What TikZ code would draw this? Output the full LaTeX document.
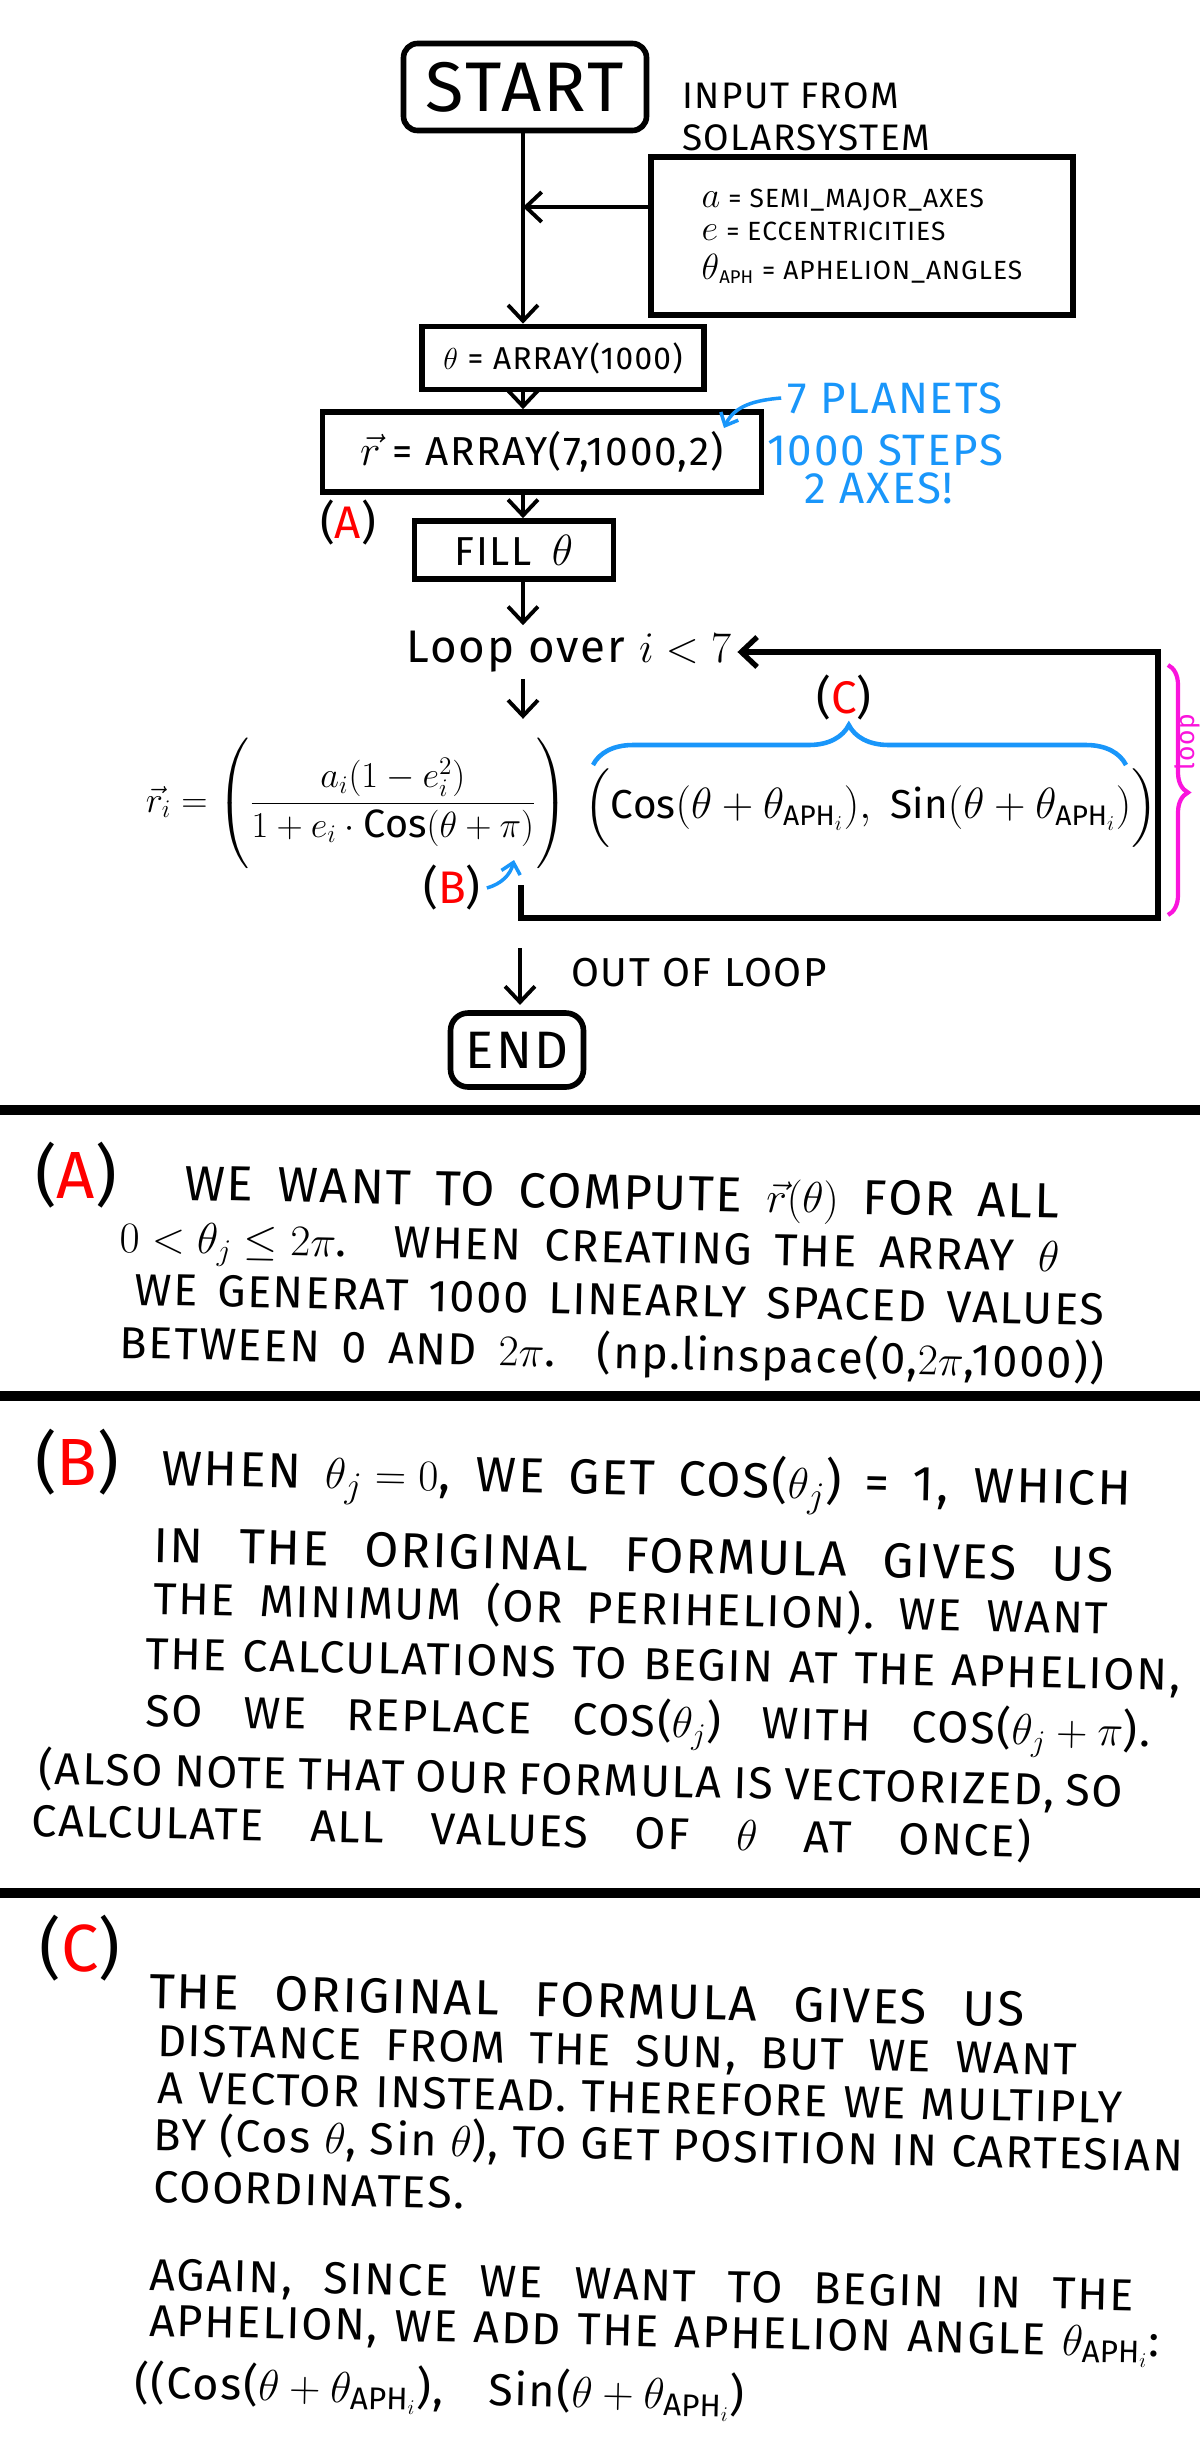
\documentclass[tikz,border=0pt]{standalone}
\usepackage{amsmath}
\usepackage{fontspec}
\setmainfont{Fira Sans}[LetterSpace=4]
\usetikzlibrary{arrows.meta,decorations.pathreplacing}

\definecolor{noteblue}{RGB}{25,150,250}
\definecolor{notepink}{RGB}{250,20,220}
\newcommand{\tagmark}[1]{(\textcolor{red}{#1})}
\newcommand{\thaph}{\theta_{\mathrm{APH}}}
\newcommand{\thaphi}{\theta_{\mathrm{APH}_i}}
\newcommand{\biglet}[1]{{\fontsize{21}{19}\selectfont$#1$}}
\newcommand{\spread}[2]{\makebox[#1][s]{#2}}

\tikzset{
  flowbox/.style={draw,line width=3.2pt,inner sep=0pt},
  arr/.style={line width=2.2pt,-{Straight Barb[length=9pt,width=17pt]}},
  bluearr/.style={draw=noteblue,line width=2pt,-{Straight Barb[length=6pt,width=11pt]}},
  note/.style={text=noteblue,font=\fontsize{25}{28}\selectfont},
  body/.style={anchor=base west,inner sep=0pt,rotate=-1.2,font=\fontsize{25.5}{29}\selectfont},
  bodybig/.style={body,font=\fontsize{28}{32}\selectfont},
  tag/.style={font=\fontsize{26}{30}\selectfont},
  bigtag/.style={font=\fontsize{38}{42}\selectfont},
  sepbar/.style={line width=5.6pt},
  bluebrace/.style={draw=noteblue,line width=2.6pt,decorate,decoration={brace,amplitude=0.8cm,aspect=0.48}},
  pinkbrace/.style={draw=notepink,line width=2.4pt,decorate,decoration={brace,amplitude=0.4cm,aspect=0.51}},
}

\begin{document}
\begin{tikzpicture}[x=0.02cm,y=0.02cm]
  \fill[white] (0,0) rectangle (1200,-2440);
  \useasboundingbox (0,0) rectangle (1200,-2440);

  % flow chart
  \node[flowbox,rounded corners=8pt,minimum width=4.86cm,minimum height=1.74cm,font=\fontsize{40}{44}\selectfont] (start) at (525,-87) {START};
  \node[anchor=west,align=left,font=\fontsize{21}{24}\selectfont] (source) at (676,-117) {INPUT FROM\\SOLARSYSTEM};
  \node[flowbox,minimum width=8.44cm,minimum height=3.16cm,align=left,font=\fontsize{15}{19}\selectfont] (input) at (862,-236)
    {\biglet{a} = SEMI\_MAJOR\_AXES\\ \biglet{e} = ECCENTRICITIES\\[3pt] \biglet{\theta}$_{\mathrm{APH}}$ = APHELION\_ANGLES};
  \node[flowbox,minimum width=5.64cm,minimum height=1.26cm,font=\fontsize{18}{20}\selectfont] (theta) at (563,-358) {$\theta$ = ARRAY(1000)};
  \node[flowbox,minimum width=8.78cm,minimum height=1.6cm,font=\fontsize{23}{26}\selectfont] (rvec) at (542,-452) {$\vec r$ = ARRAY(7,1000,2)};
  \node[flowbox,minimum width=3.98cm,minimum height=1.16cm,font=\fontsize{23}{26}\selectfont] (fillbox) at (514,-550) {FILL\enspace$\theta$};
  \node[tag] (tagAflow) at (348,-523) {\tagmark{A}};

  \node[note] (planets) at (895,-398) {7 PLANETS};
  \node[note] (steps) at (885,-450) {1000 STEPS};
  \node[note] (axes) at (879,-488) {2 AXES!};
  \coordinate (rtip) at (724,-428);
  \draw[bluearr] (planets.west) to[out=185,in=65] (rtip);

  \node[font=\fontsize{26}{30}\selectfont] (loophead) at (569,-652) {Loop over $i<7$};
  \node[inner sep=0pt,font=\fontsize{22.5}{26}\selectfont] (radial) at (357,-805)
    {$\vec r_i=\left(\rule[-1.2cm]{0pt}{2.5cm}\dfrac{a_i(1-e_i^2)}{1+e_i\cdot\mathrm{Cos}(\theta+\pi)}\right)$};
  \node[inner sep=0pt,font=\fontsize{23}{27}\selectfont] (direction) at (871,-808)
    {$\left(\rule[-0.5cm]{0pt}{1.3cm}\mathrm{Cos}(\theta+\thaphi),\ \mathrm{Sin}(\theta+\thaphi)\right)$};
  \draw[bluebrace] (593,-765) -- (1126,-765);
  \node[tag] (tagCflow) at (844,-698) {\tagmark{C}};
  \node[tag] (tagBflow) at (452,-888) {\tagmark{B}};
  \coordinate (pitip) at (514,-860);
  \draw[bluearr] (tagBflow.east) to[bend right=30] (pitip);

  \draw[pinkbrace] (1168,-665) -- (1168,-915);
  \node[rotate=90,text=notepink,font=\fontsize{15}{18}\selectfont] (looplbl) at (1187,-742) {loop};

  \node[anchor=west,font=\fontsize{23}{26}\selectfont] (outlbl) at (565,-973) {OUT OF LOOP};
  \node[flowbox,rounded corners=10pt,minimum width=2.66cm,minimum height=1.48cm,font=\fontsize{30}{34}\selectfont] (endbox) at (517,-1050) {END};

  % connectors
  \coordinate (axis) at (523,0);
  \coordinate (join) at (523,-207);
  \draw[arr] (start.south -| axis) -- (theta.north -| axis);
  \draw[arr] (input.west |- join) -- (join);
  \draw[arr] (theta.south -| axis) -- (rvec.north -| axis);
  \draw[arr] (rvec.south -| axis) -- (fillbox.north -| axis);
  \draw[arr] (fillbox.south -| axis) -- (loophead.north -| axis);
  \draw[arr] (loophead.south -| axis) -- ++(0,-40);
  \coordinate (loopfoot) at (521,-885);
  \coordinate (loopcorner) at (1158,-918);
  \draw[arr,line width=3pt] (loopfoot) |- (loopcorner) |- (loophead.east);
  \coordinate (loopexit) at (520,-948);
  \draw[arr,shorten >=3pt] (loopexit) -- (endbox.north -| loopexit);

  % notes
  \draw[sepbar] (0,-1110) -- (1200,-1110);
  \draw[sepbar] (0,-1396) -- (1200,-1396);
  \draw[sepbar] (0,-1893) -- (1200,-1893);

  \node[bigtag] (tagA) at (76,-1175) {\tagmark{A}};
  \node[bodybig] (lineA1) at (184,-1200) {\spread{17.5cm}{WE WANT TO COMPUTE \mbox{$\vec r(\theta)$} FOR ALL}};
  \node[body] (lineA2) at (119,-1252) {\spread{18.8cm}{\mbox{$0<\theta_j\leq 2\pi$}. WHEN CREATING THE ARRAY $\theta$}};
  \node[body] (lineA3) at (134,-1305) {\spread{19.4cm}{WE GENERAT 1000 LINEARLY SPACED VALUES}};
  \node[body] (lineA4) at (119,-1358) {\spread{19.7cm}{BETWEEN 0 AND \mbox{$2\pi$}. (np.linspace(0,\mbox{$2\pi$},1000))}};

  \node[bigtag] (tagB) at (77,-1462) {\tagmark{B}};
  \node[bodybig] (lineB1) at (161,-1485) {\spread{19.4cm}{WHEN \mbox{$\theta_j=0$}, WE GET COS(\mbox{$\theta_j$}) = 1, WHICH}};
  \node[bodybig] (lineB2) at (153,-1562) {\spread{19.2cm}{IN THE ORIGINAL FORMULA GIVES US}};
  \node[body] (lineB3) at (153,-1614) {\spread{19.1cm}{THE MINIMUM (OR PERIHELION). WE WANT}};
  \node[body] (lineB4) at (145,-1669) {\spread{20.7cm}{THE CALCULATIONS TO BEGIN AT THE APHELION,}};
  \node[body] (lineB5) at (145,-1726) {\spread{20.1cm}{SO WE REPLACE COS(\mbox{$\theta_j$}) WITH COS(\mbox{$\theta_j+\pi$}).}};
  \node[body] (lineB6) at (38,-1784) {\spread{21.7cm}{(ALSO NOTE THAT OUR FORMULA IS VECTORIZED, SO}};
  \node[body] (lineB7) at (31,-1836) {\spread{20cm}{CALCULATE ALL VALUES OF $\theta$ AT ONCE)}};

  \node[bigtag] (tagC) at (80,-1948) {\tagmark{C}};
  \node[bodybig] (lineC1) at (149,-2008) {\spread{17.5cm}{THE ORIGINAL FORMULA GIVES US}};
  \node[body] (lineC2) at (157,-2056) {\spread{18.4cm}{DISTANCE FROM THE SUN, BUT WE WANT}};
  \node[body] (lineC3) at (157,-2103) {\spread{19.3cm}{A VECTOR INSTEAD. THEREFORE WE MULTIPLY}};
  \node[body] (lineC4) at (153,-2150) {BY (Cos $\theta$, Sin $\theta$), TO GET POSITION IN CARTESIAN};
  \node[body] (lineC5) at (153,-2202) {COORDINATES.};
  \node[body] (lineC6) at (149,-2290) {\spread{19.7cm}{AGAIN, SINCE WE WANT TO BEGIN IN THE}};
  \node[body] (lineC7) at (149,-2336) {\spread{20.2cm}{APHELION, WE ADD THE APHELION ANGLE \mbox{$\thaphi$}:}};
  \node[body] (lineC8) at (134,-2398) {\spread{12.2cm}{((Cos(\mbox{$\theta+\thaphi$}), Sin(\mbox{$\theta+\thaphi$})}};
\end{tikzpicture}
\end{document}
